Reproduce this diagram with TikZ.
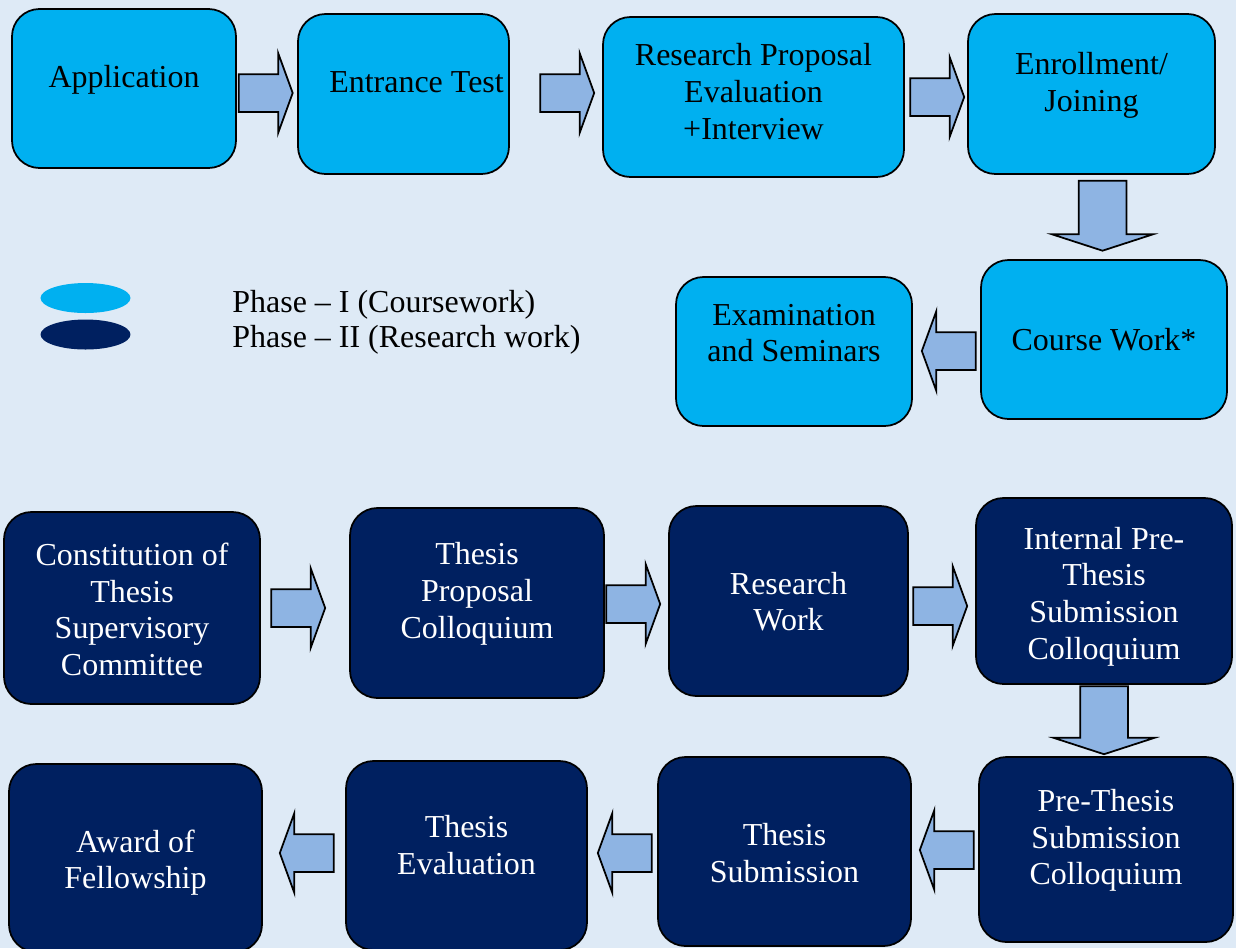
\documentclass[tikz,border=0pt]{standalone}
\usepackage{fontspec}
\setmainfont{Liberation Serif}
\usetikzlibrary{shapes.arrows,shapes.geometric,calc,positioning}

\definecolor{bgblue}{HTML}{DEEAF6}
\definecolor{phaseone}{HTML}{00B0F0}
\definecolor{phasetwo}{HTML}{002060}
\definecolor{arrowblue}{HTML}{8EB4E3}

\tikzset{
  stepone/.style={draw=black, line width=1pt, fill=phaseone, rounded corners=0.55cm, inner sep=0},
  steptwo/.style={stepone, fill=phasetwo},
  boxsize/.style 2 args={minimum width=#1*0.02cm, minimum height=#2*0.02cm},
  txtone/.style={align=center, inner sep=0, font=\fontsize{18.2}{20.9}\selectfont},
  txttwo/.style={txtone, text=white},
  harrow/.style={single arrow, draw=black, line width=1pt, fill=arrowblue, inner sep=0.36cm,
                 minimum height=1.08cm, minimum width=0pt,
                 single arrow head extend=0.42cm, single arrow tip angle=140, anchor=tip},
  varrow/.style={harrow, inner sep=0.46cm, minimum height=1.4cm,
                 single arrow head extend=0.53cm, single arrow tip angle=144, shape border rotate=270},
  larrow/.style={harrow, shape border rotate=180},
  keymark/.style={ellipse, inner sep=0, minimum width=1.8cm, minimum height=0.6cm}
}

\begin{document}
\begin{tikzpicture}[x=0.02cm, y=-0.02cm]
  \useasboundingbox (0,0) rectangle (1236,948);
  \fill[bgblue] (0,0) rectangle (1236,948);

  % Phase I
  \node[stepone, boxsize={224}{159}] (app) at (124,88.5) {};
  \node[txtone] (app-t) at ($(app)+(0,-9)$) {Application};
  \node[stepone, boxsize={211}{160}] (ent) at (403.5,94) {};
  \node[txtone] (ent-t) at ($(ent)+(13,-12)$) {Entrance Test};
  \node[stepone, boxsize={301}{160}] (rpe) at (753.5,97) {};
  \node[txtone] (rpe-t) at ($(rpe)+(0,-5.5)$) {Research Proposal\\Evaluation\\+Interview};
  \node[stepone, boxsize={247}{160}] (enr) at (1091.5,94) {};
  \node[txtone] (enr-t) at ($(enr)+(0,-9)$) {Enrollment/\\Joining};
  \node[stepone, boxsize={246}{159}] (cw) at (1104,339.5) {};
  \node[txtone] (cw-t) at ($(cw)+(0,0.5)$) {Course Work*};
  \node[stepone, boxsize={236}{149}] (exam) at (794,351.5) {};
  \node[txtone] (exam-t) at ($(exam)+(0,-18.5)$) {Examination\\and Seminars};

  % legend
  \node[keymark, fill=phaseone] (keyone) at (85.5,298) {};
  \node[keymark, fill=phasetwo] (keytwo) at (85.5,334.5) {};
  \node[txtone, anchor=base west] (legone) at (232,312) {Phase -- I (Coursework)};
  \node[txtone, anchor=base west] (legtwo) at (232,347.5) {Phase -- II (Research work)};

  % Phase II
  \node[steptwo, boxsize={256}{192}] (ctsc) at (132,608) {};
  \node[txttwo] (ctsc-t) at ($(ctsc)+(0,1.5)$) {Constitution of\\Thesis\\Supervisory\\Committee};
  \node[steptwo, boxsize={254}{190}] (tpc) at (477,603) {};
  \node[txttwo] (tpc-t) at ($(tpc)+(0,-9)$) {Thesis\\Proposal\\Colloquium};
  \node[steptwo, boxsize={239}{190}] (rw) at (788.5,601) {};
  \node[txttwo] (rw-t) at ($(rw)+(0,0.5)$) {Research\\Work};
  \node[steptwo, boxsize={256}{186}] (ipt) at (1104,591) {};
  \node[txttwo] (ipt-t) at ($(ipt)+(0,5.5)$) {Internal Pre-\\Thesis\\Submission\\Colloquium};
  \node[steptwo, boxsize={254}{185}] (ptsc) at (1106,849.5) {};
  \node[txttwo] (ptsc-t) at ($(ptsc)+(0,-9)$) {Pre-Thesis\\Submission\\Colloquium};
  \node[steptwo, boxsize={253}{189}] (ts) at (784.5,851.5) {};
  \node[txttwo] (ts-t) at ($(ts)+(0,1.5)$) {Thesis\\Submission};
  \node[steptwo, boxsize={241}{189}] (te) at (466.5,855.5) {};
  \node[txttwo] (te-t) at ($(te)+(0,-10.5)$) {Thesis\\Evaluation};
  \node[steptwo, boxsize={253}{188}] (award) at (135.5,858) {};
  \node[txttwo] (award-t) at ($(award)+(0,4.5)$) {Award of\\Fellowship};

  % block arrows, tip just before the next step
  \node[harrow] (a1) at ($(ent.west)+(-3.5,-1)$) {};
  \node[harrow] (a2) at ($(rpe.west)+(-7,-4)$) {};
  \node[harrow] (a3) at ($(enr.west)+(-2,3)$) {};
  \node[varrow] (a4) at ($(cw.north)+(-1.5,-7.5)$) {};
  \node[larrow] (a5) at ($(exam.east)+(8,-0.5)$) {};
  \node[harrow] (a6) at ($(tpc.west)+(-23,5)$) {};
  \node[harrow] (a7) at ($(rw.west)+(-7,3)$) {};
  \node[harrow] (a8) at ($(ipt.west)+(-7,15)$) {};
  \node[varrow, minimum height=1.36cm] (a9) at ($(ptsc.north)+(-2,-1)$) {};
  \node[larrow] (a10) at ($(ts.east)+(7,-1.5)$) {};
  \node[larrow] (a11) at ($(te.east)+(9,-2.5)$) {};
  \node[larrow] (a12) at ($(award.east)+(16,-5)$) {};
\end{tikzpicture}
\end{document}
